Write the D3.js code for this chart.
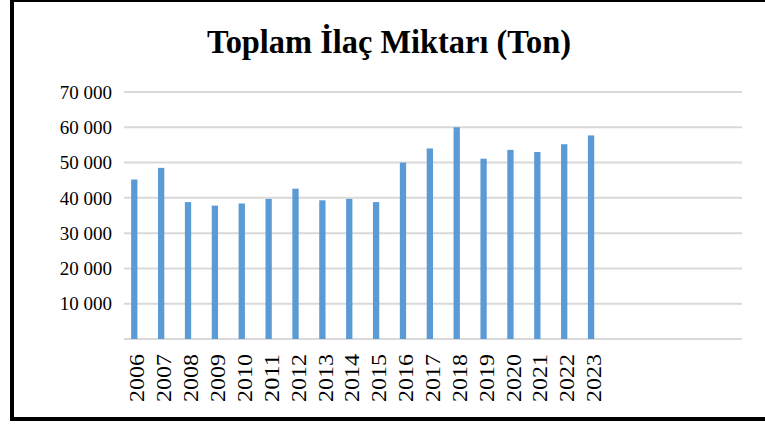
<!DOCTYPE html>
<html>
<head>
<meta charset="utf-8">
<script src="https://cdn.jsdelivr.net/npm/d3@7"></script>
<style>
  body { margin: 0; background: #fff; }
  svg { display: block; }
</style>
</head>
<body>
<svg class="chart"></svg>
<script>
// years on the category axis, with 5 empty slots after 2023
const years = ['2006', '2007', '2008', '2009', '2010', '2011', '2012', '2013', '2014',
  '2015', '2016', '2017', '2018', '2019', '2020', '2021', '2022', '2023']
const emptySlots = 5
const amounts = [45200, 48500, 38800, 37800, 38400, 39700, 42600, 39300, 39700,
  38800, 50000, 54000, 60000, 51100, 53600, 53000, 55200, 57700]
const yTicks = [10000, 20000, 30000, 40000, 50000, 60000, 70000]
const title = 'Toplam İlaç Miktarı (Ton)'

const width = 765, height = 425
const margin = { top: 92, right: 23, bottom: 86, left: 124 }
const innerWidth = width - margin.left - margin.right
const innerHeight = height - margin.top - margin.bottom

const svg = d3.select('.chart').attr('width', width).attr('height', height)

// frame
svg.append('line').attr('x1', 12).attr('x2', 12).attr('y1', 0).attr('y2', 421).attr('stroke', '#000').attr('stroke-width', 4)
svg.append('line').attr('x1', 10).attr('x2', width).attr('y1', 1).attr('y2', 1).attr('stroke', '#000').attr('stroke-width', 2)
svg.append('line').attr('x1', 10).attr('x2', width).attr('y1', 419).attr('y2', 419).attr('stroke', '#000').attr('stroke-width', 4)

svg.append('text').text(title)
  .attr('x', 389).attr('y', 53)
  .attr('text-anchor', 'middle')
  .attr('textLength', 364).attr('lengthAdjust', 'spacingAndGlyphs')
  .attr('font-family', '"Liberation Serif", "Times New Roman", serif')
  .attr('font-weight', 'bold').attr('font-size', 34)

const group = svg.append('g').attr('transform', `translate(${margin.left}, ${margin.top})`)

const slots = years.concat(d3.range(emptySlots).map(i => 'empty' + i))
const x_scale = d3.scaleBand().domain(slots).range([0, innerWidth])
const y_scale = d3.scaleLinear().domain([0, 70000]).range([innerHeight, 0])

const fmt = v => d3.format(',')(v).replace(',', ' ')

// grid
group.selectAll('.grid').data([0].concat(yTicks)).join('line').attr('class', 'grid')
  .attr('x1', 0).attr('x2', innerWidth)
  .attr('y1', d => y_scale(d)).attr('y2', d => y_scale(d))
  .attr('stroke', '#d9d9d9').attr('stroke-width', 2)

// y labels
group.selectAll('.ylab').data(yTicks).join('text').attr('class', 'ylab')
  .text(d => fmt(d))
  .attr('x', -12).attr('y', d => y_scale(d)).attr('dy', '0.35em')
  .attr('text-anchor', 'end')
  .attr('font-family', '"Liberation Serif", "Times New Roman", serif')
  .attr('font-size', 19).attr('fill', '#000')

// bars (first of a two-slot cluster, so they sit just left of the band centre)
const barW = 6.3
group.selectAll('.bar').data(amounts).join('rect').attr('class', 'bar')
  .attr('x', (d, i) => x_scale(years[i]) + x_scale.bandwidth() / 2 - barW)
  .attr('width', barW)
  .attr('y', d => y_scale(d))
  .attr('height', d => innerHeight - y_scale(d))
  .attr('fill', '#5b9bd5')

// x labels, rotated
group.selectAll('.xlab').data(years).join('text').attr('class', 'xlab')
  .text(d => d)
  .attr('transform', d => `translate(${x_scale(d) + x_scale.bandwidth() / 2}, ${innerHeight + 15}) rotate(-90)`)
  .attr('dy', '0.35em')
  .attr('text-anchor', 'end')
  .attr('textLength', 48).attr('lengthAdjust', 'spacingAndGlyphs')
  .attr('font-family', '"Liberation Serif", "Times New Roman", serif')
  .attr('font-size', 20).attr('fill', '#000')
</script>
</body>
</html>
